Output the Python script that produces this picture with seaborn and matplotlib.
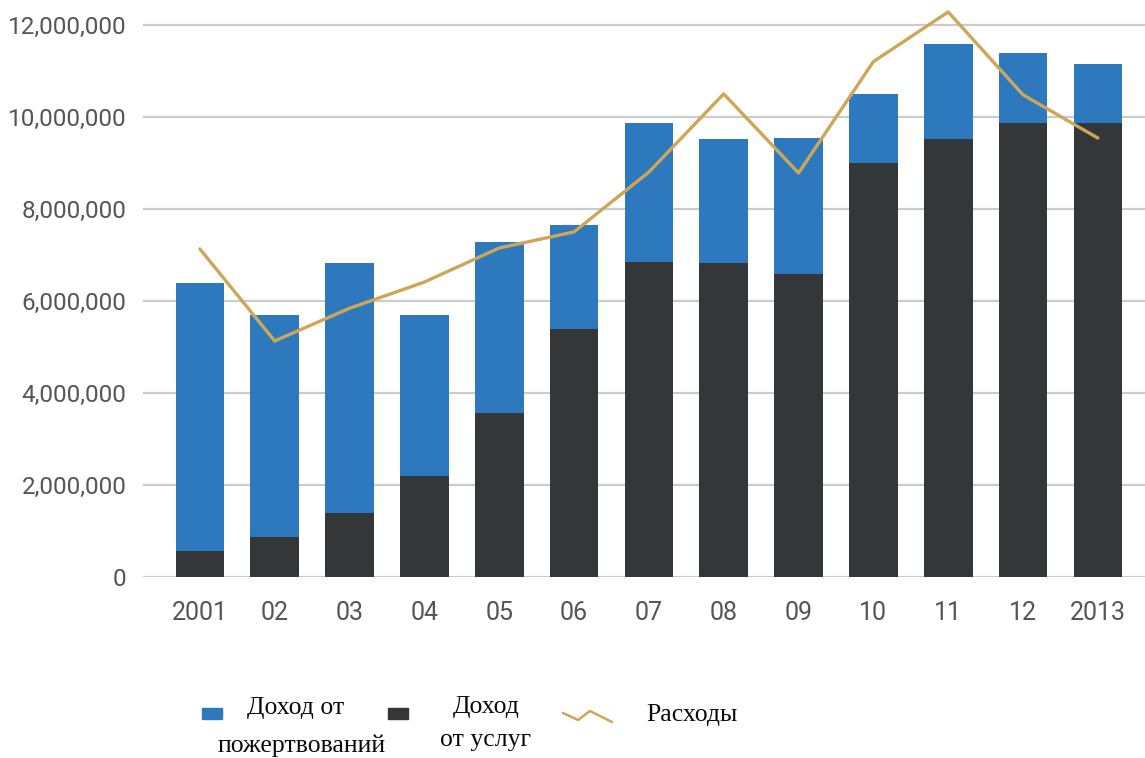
import numpy as np
import pandas as pd
import matplotlib
matplotlib.use("Agg")
import matplotlib.pyplot as plt
from matplotlib.patches import Rectangle
from matplotlib.lines import Line2D
from matplotlib.ticker import FuncFormatter
import seaborn as sns

# ---- data ----
years = ["2001", "02", "03", "04", "05", "06", "07", "08", "09", "10", "11", "12", "2013"]
services = [0.57e6, 0.87e6, 1.39e6, 2.20e6, 3.57e6, 5.38e6, 6.85e6, 6.83e6, 6.59e6,
            9.00e6, 9.52e6, 9.87e6, 9.87e6]
donations = [5.82e6, 4.83e6, 5.44e6, 3.50e6, 3.71e6, 2.27e6, 3.02e6, 2.69e6, 2.95e6,
             1.50e6, 2.07e6, 1.52e6, 1.28e6]
expenses = [7.13e6, 5.13e6, 5.84e6, 6.41e6, 7.15e6, 7.50e6, 8.80e6, 10.50e6, 8.78e6,
            11.20e6, 12.28e6, 10.48e6, 9.54e6]
y_ticks = [0, 2e6, 4e6, 6e6, 8e6, 10e6, 12e6]
legend_labels = ["Доход от\nпожертвований", "Доход\nот услуг", "Расходы"]

BLUE = "#2E79BE"
DARK = "#343739"
GOLD = "#CDA757"
GRID = "#C9CCCE"
TICK = "#555555"

df = pd.DataFrame({"year": years, "services": services, "donations": donations,
                   "expenses": expenses})
df["total"] = df["services"] + df["donations"]

sns.set_theme(style="white")
plt.rcParams["font.family"] = ["Roboto", "DejaVu Sans"]

W, H = 1145, 758
fig = plt.figure(figsize=(W / 100, H / 100), dpi=100)
ax = fig.add_axes([143 / W, (H - 577) / H, 1 - 143 / W, 577 / H])

sns.barplot(data=df, x="year", y="total", color=BLUE, width=0.65, linewidth=0,
            saturation=1, ax=ax, zorder=2)
sns.barplot(data=df, x="year", y="services", color=DARK, width=0.65, linewidth=0,
            saturation=1, ax=ax, zorder=3)
sns.lineplot(x=np.arange(len(years)), y=df["expenses"], color=GOLD, linewidth=2.4,
             ax=ax, zorder=4, sort=False)

ax.set_xlim(-0.76, len(years) - 1 + 0.63)
ax.set_ylim(0, 12.54e6)
ax.set_yticks(y_ticks)
ax.yaxis.set_major_formatter(FuncFormatter(lambda v, p: f"{int(v):,}"))
ax.set_xlabel("")
ax.set_ylabel("")
for s in ax.spines.values():
    s.set_visible(False)
ax.grid(axis="y", color=GRID, linewidth=1.6, zorder=0)
ax.grid(axis="x", visible=False)
ax.set_axisbelow(True)
ax.tick_params(axis="y", length=0, pad=12, labelsize=17.5, labelcolor=TICK)
ax.tick_params(axis="x", length=0, pad=17, labelsize=18, labelcolor=TICK)

# ---- legend (manual layout) ----
def fx(px):
    return px / W

def fy(py):
    return 1 - py / H

serif = ["Liberation Serif", "DejaVu Serif"]
fig.add_artist(Rectangle((fx(202), fy(719)), 20 / W, 11 / H, color=BLUE,
                         transform=fig.transFigure))
fig.add_artist(Rectangle((fx(388), fy(719)), 20 / W, 11 / H, color=DARK,
                         transform=fig.transFigure))
fig.add_artist(Line2D([fx(563), fx(578), fx(590), fx(612)],
                      [fy(713), fy(720), fy(711), fy(722)],
                      color=GOLD, linewidth=1.8, transform=fig.transFigure))

l1a, l1b = legend_labels[0].split("\n")
l2a, l2b = legend_labels[1].split("\n")
kw = dict(ha="center", va="baseline", family=serif, fontsize=18.5, color="#0A0A0A")
fig.text(fx(296), fy(714), l1a, **kw)
fig.text(fx(302), fy(752), l1b, **kw)
fig.text(fx(486), fy(713), l2a, **kw)
fig.text(fx(486), fy(746), l2b, **kw)
fig.text(fx(692), fy(721), legend_labels[2], **kw)

fig.savefig("out.png", dpi=100)
